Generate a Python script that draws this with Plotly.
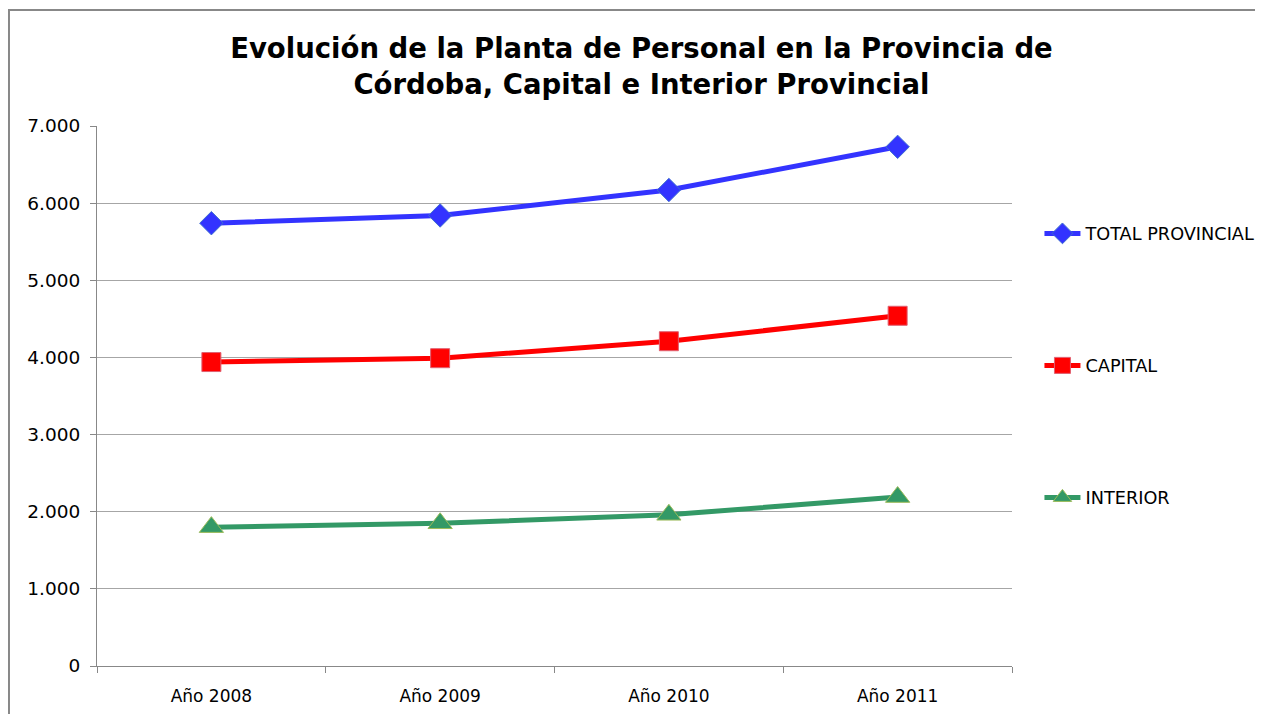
import plotly.graph_objects as go

anios = ["Año 2008", "Año 2009", "Año 2010", "Año 2011"]
total_provincial = [5740, 5840, 6170, 6730]
capital = [3940, 3990, 4210, 4540]
interior = [1800, 1850, 1960, 2190]

series = [
    ("TOTAL PROVINCIAL", total_provincial, "#3333ff", "#3f6fd0", "diamond", 18),
    ("CAPITAL", capital, "#ff0000", "#e06070", "square", 19),
    ("INTERIOR", interior, "#339966", "#9bbb59", "triangle-up", 21),
]

fig = go.Figure()
for nombre, valores, color, borde, simbolo, tam in series:
    fig.add_trace(
        go.Scatter(
            x=anios,
            y=valores,
            name=nombre,
            legendgroup=nombre,
            mode="lines+markers",
            line=dict(color=color, width=5),
            marker=dict(symbol=simbolo, size=tam, color=color, line=dict(color=borde, width=1)),
        )
    )

fuente = "Tahoma, DejaVu Sans, sans-serif"
fig.update_layout(
    width=1247,
    height=706,
    margin=dict(l=89, r=243, t=118, b=48, autoexpand=False),
    paper_bgcolor="white",
    plot_bgcolor="white",
    separators=",.",
    font=dict(family=fuente, size=16, color="black"),
    title=dict(
        text="<b>Evolución de la Planta de Personal en la Provincia de<br>Córdoba, Capital e Interior Provincial</b>",
        x=0.508,
        xanchor="center",
        y=0.9292,
        yanchor="middle",
        font=dict(family=fuente, size=27.5, color="black"),
    ),
    legend=dict(
        x=1.03,
        y=0.8345,
        xanchor="left",
        yanchor="top",
        tracegroupgap=106,
        itemwidth=36,
        font=dict(family=fuente, size=17.7, color="black"),
        bgcolor="rgba(0,0,0,0)",
    ),
    showlegend=True,
)
fig.update_xaxes(
    type="category",
    range=[-0.5, 3.5],
    tickson="boundaries",
    ticks="outside",
    ticklen=6,
    tickcolor="#888888",
    showline=True,
    linecolor="#888888",
    linewidth=1,
    showgrid=False,
    tickfont=dict(size=17),
    ticklabelstandoff=15,
)
fig.update_yaxes(
    range=[0, 7000],
    dtick=1000,
    tickformat=",d",
    ticks="outside",
    ticklen=6,
    tickcolor="#888888",
    showline=True,
    linecolor="#888888",
    linewidth=1,
    showgrid=True,
    gridcolor="#a6a6a6",
    gridwidth=1,
    zeroline=False,
    tickfont=dict(size=18.5),
    ticklabelstandoff=6,
)

# marco del gráfico
fig.add_shape(
    type="rect",
    xref="paper",
    yref="paper",
    x0=-0.0962,
    x1=1.3,
    y0=-0.13,
    y1=1.2148,
    line=dict(color="#888888", width=2),
    layer="below",
)

fig.write_html("out.html")
